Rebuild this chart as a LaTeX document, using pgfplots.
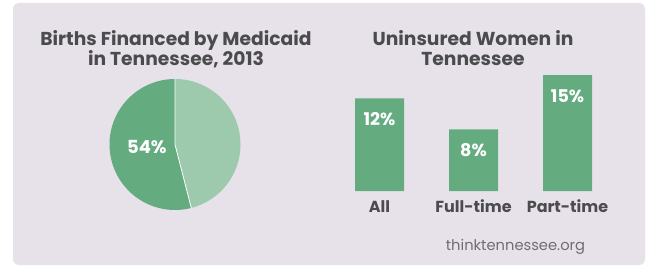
\documentclass[border=0pt]{standalone}
\usepackage{pgfplots}
\usepackage{pgfplotstable}
\pgfplotsset{compat=1.18}
\usepackage{fontspec}
\setmainfont{Poppins}
\definecolor{barg}{HTML}{64AC7F}
\definecolor{lightg}{HTML}{9DCAAD}
\definecolor{panel}{HTML}{E7E2EA}
\definecolor{titlegray}{HTML}{4B4B4D}
\definecolor{footgray}{HTML}{6E6E70}
\pgfplotstableread{
share
54
}\pietable
\pgfplotstableread{
idx value
0 12
1 8
2 15
}\bartable
\begin{document}
\begin{tikzpicture}[x=1bp,y=1bp]
\useasboundingbox (0,0) rectangle (649,267);
\fill[white] (0,0) rectangle (649,267);
\fill[panel, rounded corners=6bp] (13,2) rectangle (645,264);
\tikzset{ttl/.style={anchor=base, font=\fontsize{18.7bp}{22bp}\selectfont\bfseries, text=titlegray}}
\node[ttl] at (176,222) {Births Financed by Medicaid};
\node[ttl] at (176,202) {in Tennessee, 2013};
\node[ttl] at (473,222) {Uninsured Women in};
\node[ttl] at (473,202) {Tennessee};
\node[anchor=base, font=\fontsize{14.7bp}{18bp}\selectfont, text=footgray] at (515.5,17) {thinktennessee.org};
\pgfplotstablegetelem{0}{share}\of\pietable
\let\pieval\pgfplotsretval
\pgfmathsetmacro\endang{90+3.6*\pieval}
\begin{axis}[at={(175bp,122.5bp)}, anchor=center, width=131bp, height=131bp, scale only axis,
  xmin=-1, xmax=1, ymin=-1, ymax=1, hide axis, clip=false]
\fill[lightg] (axis cs:0,0) -- (axis cs:0,1) arc[start angle=90, end angle=\endang-360, radius=65.5bp] -- cycle;
\fill[barg] (axis cs:0,0) -- (axis cs:0,1) arc[start angle=90, end angle=\endang, radius=65.5bp] -- cycle;
\draw[white, line width=0.8bp] (axis cs:0,1) -- (axis cs:0,0) -- ++(\endang:65.5bp);
\node[anchor=base, text=white, font=\fontsize{18bp}{20bp}\selectfont\bfseries] at (axis cs:-0.43,-0.145) {\pieval\%};
\end{axis}
\begin{axis}[at={(332.5bp,76bp)}, anchor=south west, width=282bp, height=123.5bp, scale only axis,
  xmin=-0.5, xmax=2.5, ymin=0, ymax=16, ybar, bar width=49bp,
  axis line style={draw=none}, ytick=\empty, xtick=data, xticklabels={All,Full-time,Part-time},
  major tick length=0pt,
  xticklabel style={anchor=base, yshift=-21bp, font=\fontsize{16bp}{20bp}\selectfont\bfseries, text=titlegray},
  /pgf/number format/assume math mode=true,
  nodes near coords={\pgfmathprintnumber{\pgfplotspointmeta}\%},
  every node near coord/.append style={anchor=base, yshift=-27bp, text=white, font=\fontsize{17.5bp}{20bp}\selectfont\bfseries},
  clip=false]
\addplot[fill=barg, draw=none] table[x=idx, y=value] {\bartable};
\end{axis}
\end{tikzpicture}
\end{document}
